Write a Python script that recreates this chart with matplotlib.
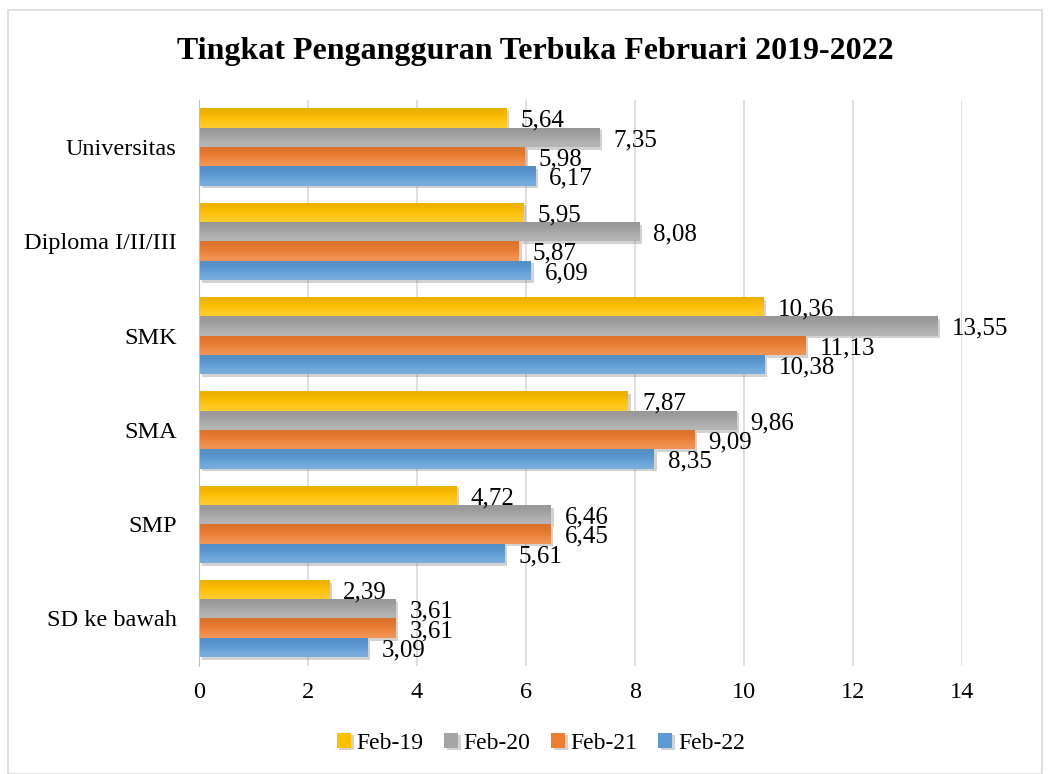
import numpy as np
import matplotlib
matplotlib.use("Agg")
import matplotlib.pyplot as plt
import matplotlib.patheffects as pe
from matplotlib.patches import Rectangle
from matplotlib.colors import to_rgb

# data
categories = ["SD ke bawah", "SMP", "SMA", "SMK", "Diploma I/II/III", "Universitas"]
series = ["Feb-19", "Feb-20", "Feb-21", "Feb-22"]
feb19 = [2.39, 4.72, 7.87, 10.36, 5.95, 5.64]
feb20 = [3.61, 6.46, 9.86, 13.55, 8.08, 7.35]
feb21 = [3.61, 6.45, 9.09, 11.13, 5.87, 5.98]
feb22 = [3.09, 5.61, 8.35, 10.38, 6.09, 6.17]
values = [feb19, feb20, feb21, feb22]
colors = ["#FFC000", "#A5A5A5", "#ED7D31", "#5B9BD5"]

plt.rcParams['font.family'] = ['Liberation Serif', 'DejaVu Serif']

fig = plt.figure(figsize=(10.5, 7.74), dpi=100)
ax = fig.add_axes([0.1895, 0.140, 0.7265, 0.731])

# outer chart border
fig.patches.append(Rectangle((8 / 1050, 0), 1034 / 1050, 1 - 10 / 774,
                             transform=fig.transFigure, fill=False,
                             edgecolor="#D9D9D9", linewidth=1.2))

bh = 0.205
y = np.arange(len(categories))


def shade(c, f):
    r, g, b = to_rgb(c)
    if f > 0:
        return (r + (1 - r) * f, g + (1 - g) * f, b + (1 - b) * f)
    return (r * (1 + f), g * (1 + f), b * (1 + f))


for i, (name, vals, col) in enumerate(zip(series, values, colors)):
    ypos = y + (1.5 - i) * bh
    bars = ax.barh(ypos, vals, height=bh, color=col, label=name, zorder=3,
                   path_effects=[pe.SimplePatchShadow(offset=(2, -2), shadow_rgbFace="#808080", alpha=0.35),
                                 pe.Normal()])
    # vertical gradient on each bar
    grad = np.array([shade(col, 0.18), shade(col, 0.0), shade(col, -0.08)])[:, None, :]
    for b in bars:
        x0, y0 = b.get_x(), b.get_y()
        w, h = b.get_width(), b.get_height()
        im = ax.imshow(grad, extent=[x0, x0 + w, y0, y0 + h], origin="lower",
                       aspect="auto", interpolation="bicubic", zorder=3.5)
        im.set_clip_path(b)
    for yy, v in zip(ypos, vals):
        ax.text(v + 0.26, yy - 0.03, f"{v:.2f}".replace(".", ","), va="center", ha="left",
                fontsize=18, color="#000000", zorder=5)

ax.set_xlim(0, 14)
ax.set_ylim(-0.5, len(categories) - 0.5)
ax.set_xticks(range(0, 15, 2))
ax.set_yticks(y)
ax.set_yticklabels(categories)
ax.tick_params(axis="both", length=0, labelsize=17.5, colors="#000000")
ax.tick_params(axis="x", pad=12)
ax.tick_params(axis="y", pad=16)
ax.grid(axis="x", color="#D9D9D9", linewidth=1.2, zorder=0)
ax.set_axisbelow(True)
for s in ["top", "right", "bottom"]:
    ax.spines[s].set_visible(False)
ax.spines["left"].set_color("#BFBFBF")
ax.spines["left"].set_zorder(4)

fig.suptitle("Tingkat Pengangguran Terbuka Februari 2019-2022", y=0.952,
             fontsize=23, fontweight="bold", x=0.51)

handles, labels = ax.get_legend_handles_labels()
fig.legend(handles, labels, loc="center", bbox_to_anchor=(0.515, 0.040), ncol=4,
           frameon=False, fontsize=17, handlelength=0.6, handleheight=0.6,
           handletextpad=0.25, columnspacing=0.85)

fig.savefig("out.png", dpi=100)
